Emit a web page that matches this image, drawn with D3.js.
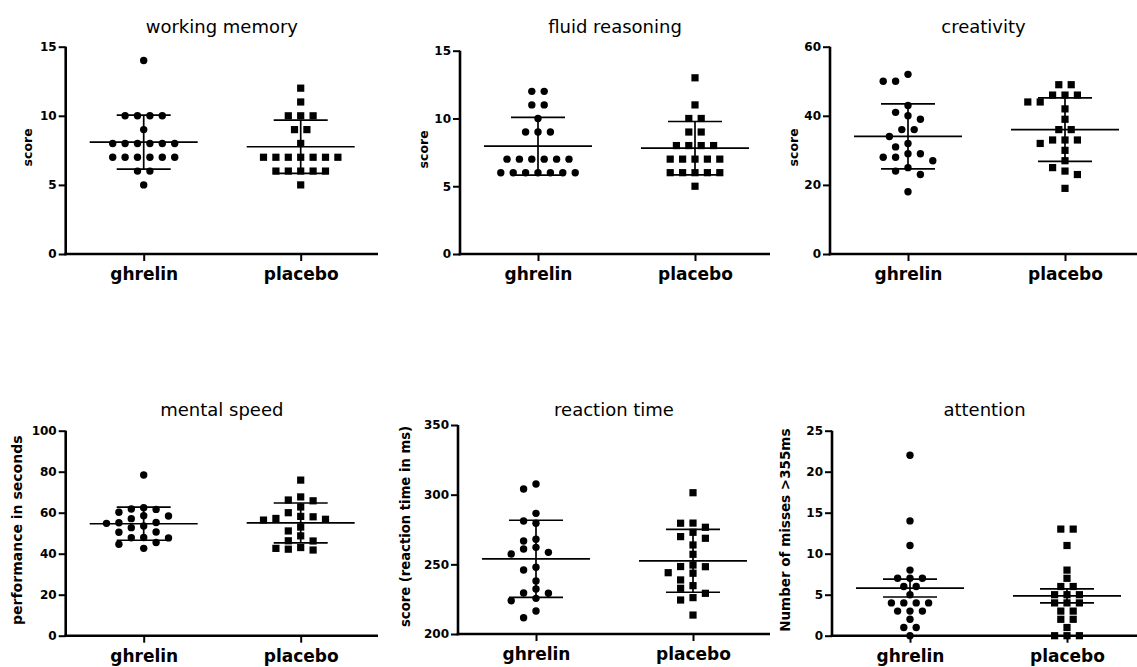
<!DOCTYPE html>
<html>
<head>
<meta charset="utf-8">
<script src="https://cdn.jsdelivr.net/npm/d3@7"></script>
<style>
  body { margin: 0; background: #fff; }
  svg { display: block; }
  text { font-family: "DejaVu Sans", sans-serif; fill: #000; }
</style>
</head>
<body>
<svg id="chart" width="1137" height="667"></svg>
<script>
const groups = ['ghrelin', 'placebo'];

/* values */
const memoryGhrelin = [14, 10, 10, 10, 10, 9, 8, 8, 8, 8, 8, 8, 7, 7, 7, 7, 7, 7, 6, 6, 5];
const memoryPlacebo = [12, 11, 10, 10, 10, 9, 9, 8, 7, 7, 7, 7, 7, 7, 7, 6, 6, 6, 6, 6, 5];
const reasoningGhrelin = [12, 12, 11, 11, 10, 9, 9, 9, 7, 7, 7, 7, 7, 7, 6, 6, 6, 6, 6, 6, 6];
const reasoningPlacebo = [13, 11, 10, 10, 9, 9, 8, 8, 8, 8, 7, 7, 7, 7, 7, 6, 6, 6, 6, 6, 5];
const creativityGhrelin = [52, 50, 50, 43, 41, 40, 39, 36, 36, 34, 32, 31, 29, 29, 28, 28, 27, 25, 24, 23, 18];
const creativityPlacebo = [49, 49, 46, 46, 46, 44, 44, 42, 39, 36, 36, 33, 33, 33, 32, 30, 27, 25, 24, 23, 19];
const speedGhrelin = [78.4, 62.4, 61.6, 61.8, 60.2, 58.4, 58.5, 57.1, 55.1, 53.5, 55.2, 54.8, 50.6, 50.5, 52.7, 47.8, 45.5, 47.7, 47.9, 42.6, 44.6];
const speedPlacebo = [75.9, 67.7, 65.8, 66.2, 62.8, 60.0, 58.2, 57.2, 56.4, 56.8, 58.0, 53.0, 51.1, 48.7, 46.2, 46.3, 42.6, 41.8, 42.2, 43.0];
const reactionGhrelin = [307.7, 304.1, 286.6, 279.5, 281.1, 268.0, 266.8, 261.0, 262.2, 257.4, 258.6, 247.9, 245.9, 238.0, 229.2, 225.6, 223.9, 229.4, 232.3, 211.7, 216.5];
const reactionPlacebo = [301.4, 279.5, 279.6, 276.6, 273.0, 269.9, 268.7, 263.9, 257.2, 248.3, 248.4, 249.5, 244.0, 243.6, 238.8, 234.7, 232.8, 229.2, 226.1, 224.4, 213.6];
const attentionGhrelin = [22, 14, 11, 8, 7, 7, 7, 6, 6, 5, 4, 4, 4, 4, 3, 3, 3, 2, 1, 1, 0];
const attentionPlacebo = [13, 13, 11, 8, 7, 6, 6, 5, 5, 5, 4, 4, 4, 3, 3, 2, 2, 1, 0, 0, 0];

/* tick labels */
const memoryTicks = [0, 5, 10, 15];
const reasoningTicks = [0, 5, 10, 15];
const creativityTicks = [0, 20, 40, 60];
const speedTicks = [0, 20, 40, 60, 80, 100];
const reactionTicks = [200, 250, 300, 350];
const attentionTicks = [0, 5, 10, 15, 20, 25];

const panels = [
  { title: 'working memory', yLabel: 'score', ticks: memoryTicks, ghrelin: memoryGhrelin, placebo: memoryPlacebo,
    error: 'sd', x0: 65.7, x1: 378, top: 46.7, bottom: 254, titleY: 33, labelX: 27, labelSize: 12.5 },
  { title: 'fluid reasoning', yLabel: 'score', ticks: reasoningTicks, ghrelin: reasoningGhrelin, placebo: reasoningPlacebo,
    error: 'sd', x0: 460, x1: 770, top: 50.7, bottom: 254, titleY: 33, labelX: 423, labelSize: 12.5 },
  { title: 'creativity', yLabel: 'score', ticks: creativityTicks, ghrelin: creativityGhrelin, placebo: creativityPlacebo,
    error: 'sd', x0: 830, x1: 1137, top: 46.7, bottom: 254, titleY: 33, labelX: 793, labelSize: 12.5 },
  { title: 'mental speed', yLabel: 'performance in seconds', ticks: speedTicks, ghrelin: speedGhrelin, placebo: speedPlacebo,
    error: 'sd', x0: 65.7, x1: 378, top: 430.7, bottom: 635.7, titleY: 416, labelX: 16.7, labelSize: 14 },
  { title: 'reaction time', yLabel: 'score (reaction time in ms)', ticks: reactionTicks, ghrelin: reactionGhrelin, placebo: reactionPlacebo,
    error: 'sd', x0: 458, x1: 770, top: 425, bottom: 634, titleY: 416, labelX: 405.7, labelSize: 13.2 },
  { title: 'attention', yLabel: 'Number of misses >355ms', ticks: attentionTicks, ghrelin: attentionGhrelin, placebo: attentionPlacebo,
    error: 'sem', x0: 832, x1: 1137, top: 430.7, bottom: 635.7, titleY: 416, labelX: 785, labelSize: 13.5 }
];

const step = 12.4;   // horizontal spacing of symbols in a row
const rowGap = 7.8;  // symbols in the same column need this much vertical room

// GraphPad-like scatter: equal values form centred rows, rows shift sideways to avoid overlaps
function swarm(values, y) {
  const pts = values.map(v => ({ v, py: y(v) })).sort((a, b) => b.v - a.v);
  const placed = [];
  const hits = (dx, py) => placed.some(q => Math.abs(q.dx - dx) < step - 0.01 && Math.abs(q.py - py) < rowGap);
  d3.groups(pts, d => d.v).forEach(([, row]) => {
    const n = row.length;
    for (let k = 0; k < 80; k++) {
      const shift = (k % 2 ? -1 : 1) * Math.ceil(k / 2) * step / 2;
      const xs = row.map((d, i) => (i - (n - 1) / 2) * step + shift);
      if (!xs.some((dx, i) => hits(dx, row[i].py))) {
        row.forEach((d, i) => { d.dx = xs[i]; placed.push(d); });
        break;
      }
    }
  });
  return pts;
}

const svg = d3.select('#chart');

panels.forEach(p => {
  const g = svg.append('g');
  const y = d3.scaleLinear().domain(d3.extent(p.ticks)).range([p.bottom, p.top]);
  const x = d3.scalePoint().domain(groups).range([p.x0 + 78, p.x0 + 235]);

  // y axis
  const ya = g.append('g')
    .attr('transform', `translate(${p.x0},0)`)
    .call(d3.axisLeft(y).tickValues(p.ticks).tickSize(7).tickPadding(2).tickSizeOuter(0));
  ya.select('.domain').attr('stroke-width', 2.6).attr('d', `M0,${p.bottom + 1.3}V${p.top}`);
  ya.selectAll('.tick line').attr('stroke-width', 2);
  ya.selectAll('.tick text').attr('font-size', 12).attr('font-weight', 'bold')
    .attr('font-family', '"DejaVu Sans", sans-serif');

  // x axis
  const xa = g.append('g')
    .attr('transform', `translate(0,${p.bottom})`)
    .call(d3.axisBottom(x).tickSize(7).tickPadding(7).tickSizeOuter(0));
  xa.select('.domain').attr('stroke-width', 2.6).attr('d', `M${p.x0 - 1.3},0H${p.x1}`);
  xa.selectAll('.tick line').attr('stroke-width', 2);
  xa.selectAll('.tick text').attr('font-size', 17).attr('font-weight', 'bold')
    .attr('font-family', '"DejaVu Sans", sans-serif');

  // title
  g.append('text')
    .attr('x', (p.x0 + p.x1) / 2)
    .attr('y', p.titleY)
    .attr('text-anchor', 'middle')
    .attr('font-size', 18)
    .text(p.title);

  // y label
  g.append('text')
    .attr('transform', `translate(${p.labelX},${(p.top + p.bottom) / 2 - 3}) rotate(-90)`)
    .attr('dy', '0.36em')
    .attr('text-anchor', 'middle')
    .attr('font-size', p.labelSize)
    .attr('font-weight', 'bold')
    .text(p.yLabel);

  groups.forEach(name => {
    const vals = p[name];
    const cx = x(name);
    const pts = swarm(vals, y);

    if (name === 'ghrelin') {
      g.append('g').selectAll('circle').data(pts).join('circle')
        .attr('cx', d => cx + d.dx)
        .attr('cy', d => d.py)
        .attr('r', 3.7)
        .attr('fill', '#000');
    } else {
      g.append('g').selectAll('rect').data(pts).join('rect')
        .attr('x', d => cx + d.dx - 3.6)
        .attr('y', d => d.py - 3.6)
        .attr('width', 7.2)
        .attr('height', 7.2)
        .attr('fill', '#000');
    }

    // mean with SD (SEM for the attention panel)
    const m = d3.mean(vals);
    let e = d3.deviation(vals);
    if (p.error === 'sem') e = e / Math.sqrt(vals.length);
    const bars = g.append('g').attr('stroke', '#000').attr('stroke-width', 1.7);
    bars.append('line').attr('x1', cx - 54).attr('x2', cx + 54).attr('y1', y(m)).attr('y2', y(m));
    bars.append('line').attr('x1', cx).attr('x2', cx).attr('y1', y(m - e)).attr('y2', y(m + e));
    [m - e, m + e].forEach(v => {
      bars.append('line').attr('x1', cx - 27).attr('x2', cx + 27).attr('y1', y(v)).attr('y2', y(v));
    });
  });
});
</script>
</body>
</html>
